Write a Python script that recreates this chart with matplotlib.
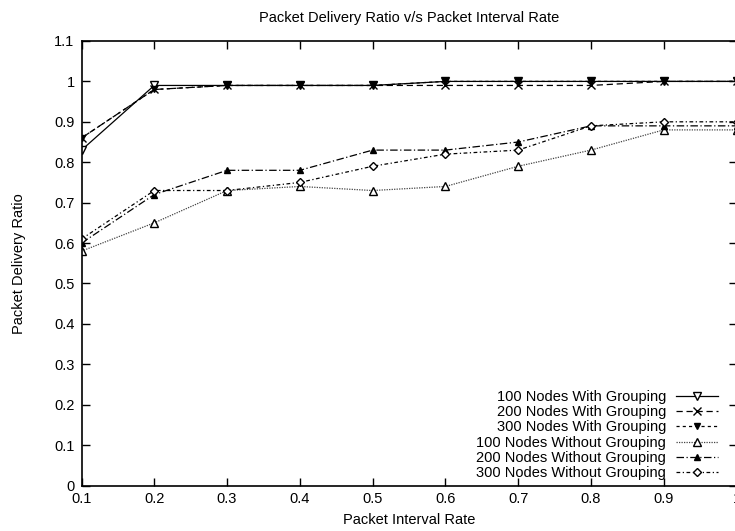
import numpy as np
import matplotlib
matplotlib.use('Agg')
import matplotlib.pyplot as plt
from matplotlib.ticker import FormatStrFormatter

plt.rcParams['font.family'] = ['Liberation Sans', 'DejaVu Sans']

rate = [0.1, 0.2, 0.3, 0.4, 0.5, 0.6, 0.7, 0.8, 0.9, 1.0]
g100 = [0.83, 0.99, 0.99, 0.99, 0.99, 1.0, 1.0, 1.0, 1.0, 1.0]
g200 = [0.86, 0.98, 0.99, 0.99, 0.99, 0.99, 0.99, 0.99, 1.0, 1.0]
g300 = [0.86, 0.98, 0.99, 0.99, 0.99, 1.0, 1.0, 1.0, 1.0, 1.0]
ng100 = [0.58, 0.65, 0.73, 0.74, 0.73, 0.74, 0.79, 0.83, 0.88, 0.88]
ng200 = [0.60, 0.72, 0.78, 0.78, 0.83, 0.83, 0.85, 0.89, 0.89, 0.89]
ng300 = [0.61, 0.73, 0.73, 0.75, 0.79, 0.82, 0.83, 0.89, 0.90, 0.90]
names = ['100 Nodes With Grouping', '200 Nodes With Grouping', '300 Nodes With Grouping',
         '100 Nodes Without Grouping', '200 Nodes Without Grouping', '300 Nodes Without Grouping']

fig = plt.figure(figsize=(7.35, 5.31), dpi=100)
ax = fig.add_axes([81.5/735, 1-485.5/531, (736.5-81.5)/735, (485.5-41)/531])

lw = 0.9
ms = 5.5
ax.plot(rate, g100, color='k', lw=lw, ls='-', marker='v', mfc='white', mec='k', ms=ms, label=names[0])
ax.plot(rate, g200, color='k', lw=lw, ls=(0, (5, 3)), marker='x', mec='k', ms=ms, label=names[1])
ax.plot(rate, g300, color='k', lw=lw, ls=(0, (2.5, 2.5)), marker='v', mfc='k', mec='k', ms=ms-1, label=names[2])
ax.plot(rate, ng100, color='#444444', lw=lw, ls=(0, (1, 1)), marker='^', mfc='white', mec='k', ms=ms, label=names[3])
ax.plot(rate, ng200, color='k', lw=lw, ls=(0, (6, 2, 1, 2)), marker='^', mfc='k', mec='k', ms=ms-1, label=names[4])
ax.plot(rate, ng300, color='k', lw=lw, ls=(0, (3, 2, 1, 2)), marker='D', mfc='white', mec='k', ms=ms-1.5, label=names[5])

ax.set_xlim(0.1, 1.0)
ax.set_ylim(0, 1.1)
ax.set_xticks(np.arange(0.1, 1.01, 0.1))
ax.set_yticks(np.arange(0, 1.11, 0.1))
ax.xaxis.set_major_formatter(FormatStrFormatter('%g'))
ax.yaxis.set_major_formatter(FormatStrFormatter('%g'))
ax.tick_params(direction='in', top=True, right=True, length=6, width=1, labelsize=10.5, pad=5)
for s in ax.spines.values():
    s.set_linewidth(1.2)

ax.set_title('Packet Delivery Ratio v/s Packet Interval Rate', fontsize=10.5, pad=14)
ax.set_xlabel('Packet Interval Rate', fontsize=10.5, labelpad=5)
ax.set_ylabel('Packet Delivery Ratio', fontsize=10.5, labelpad=20)

leg = ax.legend(loc='lower right', bbox_to_anchor=(718/735, 1-480/531), bbox_transform=fig.transFigure,
                frameon=False, markerfirst=False, numpoints=1, fontsize=10.5, handlelength=2.9,
                handletextpad=0.65, labelspacing=0.08, borderpad=0, borderaxespad=0)
for col in leg._legend_handle_box.get_children():
    col.align = 'right'

fig.savefig('out.png', dpi=100)
